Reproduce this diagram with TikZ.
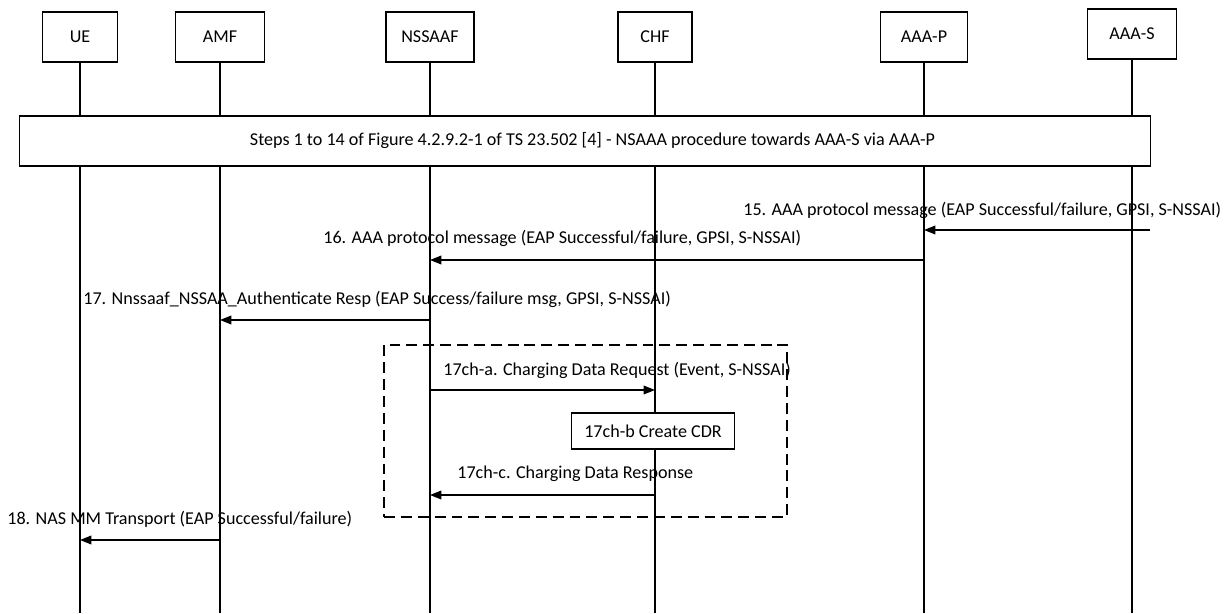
\documentclass[tikz,border=0pt]{standalone}
\usepackage{fontspec}
\setmainfont{Carlito}
\usetikzlibrary{arrows.meta}

\begin{document}
\begin{tikzpicture}[x=0.02cm, y=-0.02cm,
    every node/.style={font=\fontsize{10.3}{12}\selectfont},
    entity/.style={draw, fill=white, line width=0.6pt, minimum height=1cm, inner sep=0pt},
    life/.style={line width=0.6pt},
    msg/.style={line width=0.6pt, -{Triangle[length=6.5pt, width=5pt]}},
    lbl/.style={anchor=west, inner sep=0pt},
    group/.style={draw, line width=1pt, dash pattern=on 6.2pt off 3.4pt, minimum width=8.06cm, minimum height=3.44cm, inner sep=0pt}]

\useasboundingbox (0,0) rectangle (1226,613);

% Bottom of the lifelines
\coordinate (bottom) at (0,613);

% Entities and their lifelines
\foreach \name/\txt/\x/\y/\w in {ue/UE/80/37/1.5cm, amf/AMF/220/37/1.78cm, nssaaf/NSSAAF/430/37/1.76cm,
    chf/CHF/655/37/1.48cm, aaap/AAA-P/924/37/1.74cm, aaas/AAA-S/1132/34/1.78cm} {
    \node[entity, minimum width=\w] (\name) at (\x,\y) {\txt};
    \draw[life] (\name) -- (\name |- bottom);
}

% Steps 1 to 14
\node[entity, minimum width=22.64cm] (steps) at (585,141)
    {\hspace{0.3cm}Steps 1 to 14 of Figure 4.2.9.2-1 of TS 23.502 [4] - NSAAA procedure towards AAA-S via AAA-P};

% 15. from AAA-S side to AAA-P
\coordinate (m15) at (1150,230);
\draw[msg] (m15) -- (aaap |- m15);
\node[lbl] (l15) at (743,210) {15. AAA protocol message (EAP Successful/failure, GPSI, S-NSSAI)};

% 16. to 18.
\foreach \from/\to/\y in {aaap/nssaaf/260, nssaaf/amf/320, nssaaf/chf/390, chf/nssaaf/495, amf/ue/540} {
    \draw[msg] (\from |- 0,\y) -- (\to |- 0,\y);
}
\node[lbl] (l16) at (323,238) {16. AAA protocol message (EAP Successful/failure, GPSI, S-NSSAI)};
\node[lbl] (l17) at (83,299) {17. Nnssaaf\_NSSAA\_Authenticate Resp (EAP Success/failure msg, GPSI, S-NSSAI)};
\node[lbl] (l17a) at (443,370) {17ch-a. Charging Data Request (Event, S-NSSAI)};
\node[lbl] (l17c) at (457,474) {17ch-c. Charging Data Response};
\node[lbl] (l18) at (7,519) {18. NAS MM Transport (EAP Successful/failure)};

% Charging part
\node[entity, minimum width=3.26cm, minimum height=0.72cm] (cdr) at (653,431) {17ch-b Create CDR};
\node[group] (chgroup) at (585.5,431) {};

\end{tikzpicture}
\end{document}
